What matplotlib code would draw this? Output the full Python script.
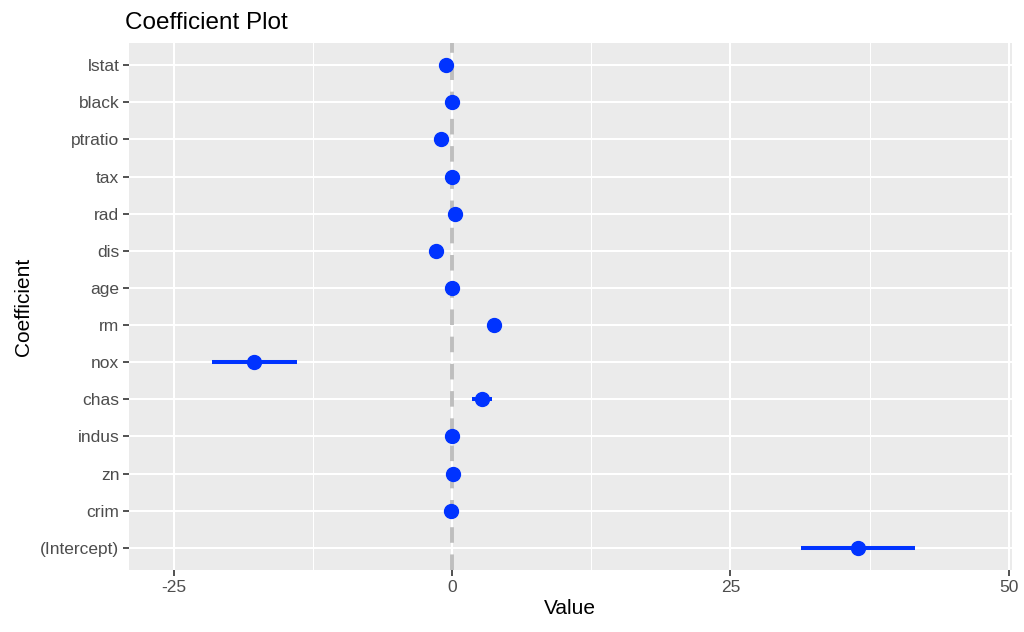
import matplotlib.pyplot as plt
from matplotlib.ticker import FixedLocator
import numpy as np

# lm(medv ~ ., Boston) coefficients, bottom to top
terms = ['(Intercept)', 'crim', 'zn', 'indus', 'chas', 'nox', 'rm', 'age',
         'dis', 'rad', 'tax', 'ptratio', 'black', 'lstat']
estimate = [36.46, -0.108, 0.0464, 0.0206, 2.687, -17.77, 3.810, 0.0007,
            -1.476, 0.306, -0.0123, -0.953, 0.0093, -0.525]
std_err = [5.104, 0.0329, 0.0137, 0.0615, 0.862, 3.820, 0.418, 0.0132,
           0.1995, 0.0663, 0.0038, 0.1308, 0.0027, 0.0507]

x_major = [-25, 0, 25, 50]
x_minor = [-12.5, 12.5, 37.5]

plt.rcParams['font.family'] = ['Liberation Sans', 'DejaVu Sans']
plt.rcParams['axes.unicode_minus'] = False

est = np.array(estimate)
se = np.array(std_err)
ypos = np.arange(len(terms))

fig = plt.figure(figsize=(10.24, 6.32), dpi=100)
ax = fig.add_axes([0.126, 0.098, 0.862, 0.834])
ax.set_facecolor('#EBEBEB')
for s in ax.spines.values():
    s.set_visible(False)

# ggplot-like limits: outer interval (2 se) plus 5% expansion
lo, hi = (est - 2 * se).min(), (est + 2 * se).max()
pad = 0.05 * (hi - lo)
ax.set_xlim(lo - pad, hi + pad)
ax.set_ylim(-0.6, len(terms) - 1 + 0.6)

ax.xaxis.set_major_locator(FixedLocator(x_major))
ax.xaxis.set_minor_locator(FixedLocator(x_minor))
ax.set_yticks(ypos)
ax.set_yticklabels(terms)
ax.grid(which='major', color='white', linewidth=1.5)
ax.grid(which='minor', axis='x', color='white', linewidth=0.75)
ax.set_axisbelow(True)
ax.tick_params(which='major', length=4, width=1.2, color='#333333',
               labelcolor='#4D4D4D', labelsize=12.5, pad=3)
ax.tick_params(which='minor', length=0)

ax.axvline(0, color='#BEBEBE', linewidth=2.8, linestyle=(0, (4, 3)), zorder=2)
ax.hlines(ypos, est - se, est + se, color='#0033FF', linewidth=2.9, zorder=3)
ax.plot(est, ypos, 'o', color='#0033FF', markersize=10, zorder=4)

ax.set_xlabel('Value', fontsize=15, labelpad=3)
ax.set_ylabel('Coefficient', fontsize=15, labelpad=5)
ax.set_title('Coefficient Plot', fontsize=17.5, loc='left', x=-0.004, pad=10)

plt.savefig('out.png', dpi=100)
